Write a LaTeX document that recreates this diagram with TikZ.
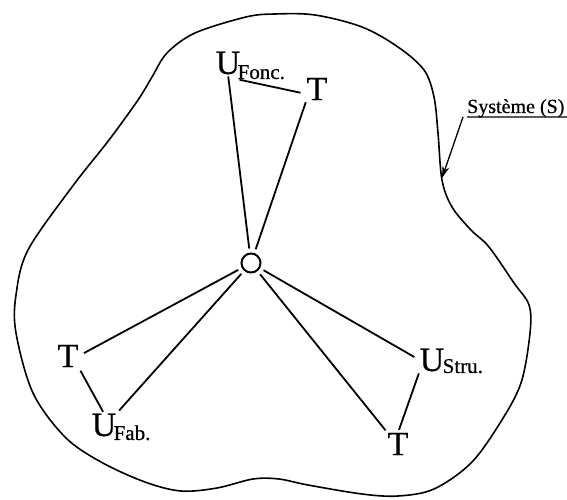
\documentclass[tikz,border=0pt]{standalone}
\usepackage{fontspec}
\setmainfont{Liberation Serif}
\newfontfamily\scanfont[FakeBold=0.6]{Liberation Serif}
\usetikzlibrary{arrows.meta}
\begin{document}
\begin{tikzpicture}[x=1pt,y=-1pt,
  big/.style={inner sep=0pt, font=\scanfont\fontsize{34}{34}\selectfont},
  sub/.style={inner sep=0pt, anchor=base west, font=\scanfont\fontsize{21}{21}\selectfont},
  link/.style={line width=1.8pt},
  blob/.style={line width=1.6pt},
]
\useasboundingbox (0,0) rectangle (567,500);
% system boundary
\draw[blob] plot[smooth cycle, tension=0.55] coordinates {
  (275,14) (315,15) (362,27) (398,47) (424,70) (434,97) (438,133) (442,180)
  (452,207) (471,230) (489,247) (514,283) (529,305) (530,333) (521,383)
  (500,423) (471,463) (434,489) (398,496) (362,494) (308,485) (279,479)
  (253,479) (217,488) (181,491) (145,482) (101,462) (65,437) (33,393)
  (16,333) (16,295) (28,250) (72,187) (109,140) (138,100) (152,77)
  (167,53) (195,33) (246,17)};
% central node
\node[circle, draw, line width=2pt, minimum size=19pt, inner sep=0pt] (O) at (251,263) {};
% labels
\node[big] (Uf) at (228,63) {U};
\node[sub] (Ufs) at ([xshift=-3pt,yshift=-5pt]Uf.base east) {Fonc.};
\node[big] (T1) at (317,89) {T};
\node[big] (T2) at (68,356) {T};
\node[big] (Ua) at (104,425) {U};
\node[sub] (Uas) at ([xshift=-3pt,yshift=-4pt]Ua.base east) {Fab.};
\node[big] (Us) at (432,360) {U};
\node[sub] (Uss) at ([xshift=-2pt,yshift=-2pt]Us.base east) {Stru.};
\node[big] (T3) at (398,444) {T};
% connectors
\draw[link, shorten <=2pt, shorten >=4pt] (Uf.south) -- (O);
\draw[link, shorten <=1pt, shorten >=6pt] ([xshift=-2pt,yshift=-5pt]Uf.south east) -- ([yshift=-5pt]T1.west);
\draw[link, shorten <=2pt, shorten >=4pt] (T1.south west) -- (O);
\draw[link, shorten <=6pt, shorten >=4pt] (T2.east) -- (O);
\draw[link, shorten <=4pt, shorten >=2pt] (T2.south east) -- (Ua.north);
\draw[link, shorten <=4pt, shorten >=4pt] (O) -- (Ua.north east);
\draw[link, shorten <=4pt, shorten >=6pt] (O) -- (Us.west);
\draw[link, shorten <=2pt, shorten >=3pt] (Us.south west) -- (T3.north);
\draw[link, shorten <=4pt, shorten >=3pt] (O) -- (T3.north west);
% system label
\node[sub, font=\scanfont\fontsize{20}{20}\selectfont] (Sys) at (467,113) {Système (S)};
\coordinate (SysEnd) at (567,117);
\coordinate (SysTip) at (442,178);
\draw[line width=1.3pt, -{Stealth[length=12pt,width=7pt]}] (SysEnd) -- (Sys.base west |- SysEnd) ++(-4,0) coordinate (SysBend) -- (SysTip);
\end{tikzpicture}
\end{document}
